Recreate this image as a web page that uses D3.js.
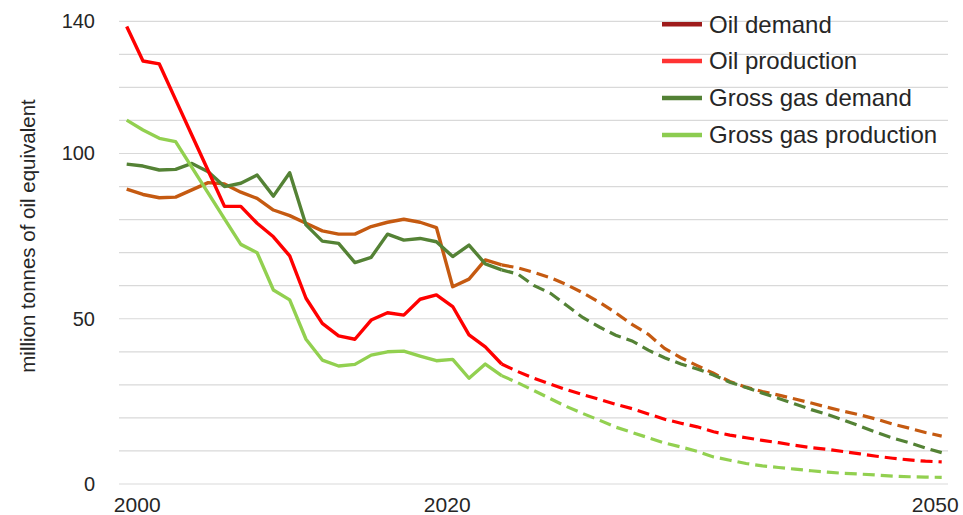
<!DOCTYPE html>
<html>
<head>
<meta charset="utf-8">
<script src="https://cdn.jsdelivr.net/npm/d3@7"></script>
<style>
  html, body { margin: 0; padding: 0; background: #fff; }
  svg { display: block; }
  text { font-family: "Liberation Sans", Arial, sans-serif; fill: #262626; }
</style>
</head>
<body>
<svg id="chart" width="963" height="515"></svg>
<script>
const years = d3.range(2000, 2051);
const lastActualYear = 2023;

const oilDemand = [89.2, 87.6, 86.6, 86.8, 89.0, 91.2, 90.8, 88.3, 86.4, 82.9,
  81.2, 78.9, 76.6, 75.6, 75.6, 77.9, 79.2, 80.1, 79.2, 77.6,
  59.7, 62.0, 67.8, 66.3, 65.4, 64.0, 62.4, 60.3, 57.8, 55.0,
  51.8, 48.3, 45.3, 41.0, 38.2, 35.8, 33.5, 31.0, 29.3, 28.0,
  26.9, 25.7, 24.5, 23.2, 22.0, 20.9, 19.6, 18.1, 16.9, 15.6, 14.5];

const oilProduction = [138.4, 128.0, 127.1, 116.3, 105.5, 94.8, 84.0, 84.0, 78.9, 74.8,
  69.0, 56.2, 48.6, 44.8, 43.8, 49.6, 51.8, 51.1, 55.9, 57.2,
  53.7, 45.1, 41.5, 36.3, 34.0, 32.0, 30.2, 28.5, 27.0, 25.6,
  24.1, 22.8, 21.2, 19.6, 18.4, 17.3, 15.8, 14.8, 14.0, 13.2,
  12.5, 11.7, 11.0, 10.5, 9.8, 9.1, 8.4, 7.8, 7.3, 6.9, 6.7];

const gasDemand = [96.8, 96.2, 95.0, 95.2, 97.0, 94.5, 90.0, 91.0, 93.5, 87.1,
  94.2, 78.4, 73.5, 72.8, 67.0, 68.6, 75.6, 73.8, 74.3, 73.3,
  68.8, 72.3, 66.6, 64.8, 63.5, 60.0, 57.7, 54.0, 50.3, 47.5,
  45.0, 43.3, 40.5, 38.2, 36.3, 34.8, 33.0, 30.8, 29.2, 27.5,
  25.9, 24.2, 22.5, 21.0, 19.3, 17.5, 15.6, 13.9, 12.5, 10.9, 9.5];

const gasProduction = [110.1, 107.1, 104.6, 103.6, 95.8, 88.0, 80.2, 72.5, 70.0, 58.7,
  55.7, 43.8, 37.5, 35.7, 36.2, 39.0, 40.0, 40.2, 38.7, 37.3,
  37.7, 32.0, 36.3, 32.8, 30.6, 28.2, 25.8, 23.4, 21.3, 19.3,
  17.2, 15.6, 14.0, 12.4, 11.2, 9.9, 8.2, 7.2, 6.2, 5.5,
  5.0, 4.5, 4.0, 3.6, 3.2, 3.0, 2.7, 2.4, 2.2, 2.1, 2.0];

const seriesNames = ["Oil demand", "Oil production", "Gross gas demand", "Gross gas production"];
const lineColors = ["#C55A11", "#FF0000", "#548235", "#92D050"];
const legendColors = ["#9E1B1B", "#FF3333", "#538135", "#8CCC50"];
const yTickValues = [0, 50, 100, 140];
const xTickValues = [2000, 2020, 2050];
const yAxisTitle = "million tonnes of oil equivalent";

const seriesValues = [oilDemand, oilProduction, gasDemand, gasProduction];
const drawOrder = [0, 2, 1, 3];

const svg = d3.select("#chart");
const x = d3.scaleLinear().domain([2000, 2050]).range([126.7, 941.7]);
const y = d3.scaleLinear().domain([0, 140]).range([484, 21.3]);

// gridlines
svg.append("g")
  .selectAll("line")
  .data(d3.range(0, 141, 10))
  .join("line")
  .attr("x1", 119).attr("x2", 948)
  .attr("y1", d => y(d)).attr("y2", d => y(d))
  .attr("stroke", "#d9d9d9").attr("stroke-width", 1.2);

// y tick labels
const yAxis = d3.axisLeft(y).tickValues(yTickValues).tickSize(0).tickPadding(0);
const gy = svg.append("g").attr("transform", "translate(95,0)").call(yAxis);
gy.select(".domain").remove();
gy.selectAll("text")
  .attr("font-size", 20).attr("fill", "#262626")
  .attr("font-family", "Liberation Sans, Arial, sans-serif");

// x tick labels (label boxes sit slightly off the data positions, as in the source)
const xLabelShift = {2000: 10, 2020: -6, 2050: -7};
const xAxis = d3.axisBottom(x).tickValues(xTickValues).tickFormat(d3.format("d")).tickSize(0).tickPadding(0);
const gx = svg.append("g").attr("transform", "translate(0,497)").call(xAxis);
gx.select(".domain").remove();
gx.selectAll("text")
  .attr("font-size", 21).attr("fill", "#262626")
  .attr("font-family", "Liberation Sans, Arial, sans-serif")
  .attr("dx", d => xLabelShift[d] || 0);

// y axis title
svg.append("text")
  .attr("transform", "translate(35,236) rotate(-90)")
  .attr("text-anchor", "middle")
  .attr("font-size", 20.5)
  .text(yAxisTitle);

// lines
const line = d3.line().x(d => x(d.year)).y(d => y(d.value));
const linesG = svg.append("g");
drawOrder.forEach(i => {
  const pts = years.map((yr, k) => ({ year: yr, value: seriesValues[i][k] }));
  const actual = pts.filter(p => p.year <= lastActualYear);
  const proj = pts.filter(p => p.year >= lastActualYear);
  linesG.append("path").datum(proj)
    .attr("d", line).attr("fill", "none")
    .attr("stroke", lineColors[i]).attr("stroke-width", 3.2)
    .attr("stroke-dasharray", "12,6");
  linesG.append("path").datum(actual)
    .attr("d", line).attr("fill", "none")
    .attr("stroke", lineColors[i]).attr("stroke-width", 3.4)
    .attr("stroke-linejoin", "round");
});

// legend
const legend = svg.append("g");
const legendY = [24.3, 61, 98, 135];
seriesNames.forEach((name, i) => {
  legend.append("line")
    .attr("x1", 662).attr("x2", 702)
    .attr("y1", legendY[i]).attr("y2", legendY[i])
    .attr("stroke", legendColors[i]).attr("stroke-width", 4.5);
  legend.append("text")
    .attr("x", 709).attr("y", legendY[i])
    .attr("dy", "0.35em")
    .attr("font-size", 24)
    .text(name);
});
</script>
</body>
</html>
